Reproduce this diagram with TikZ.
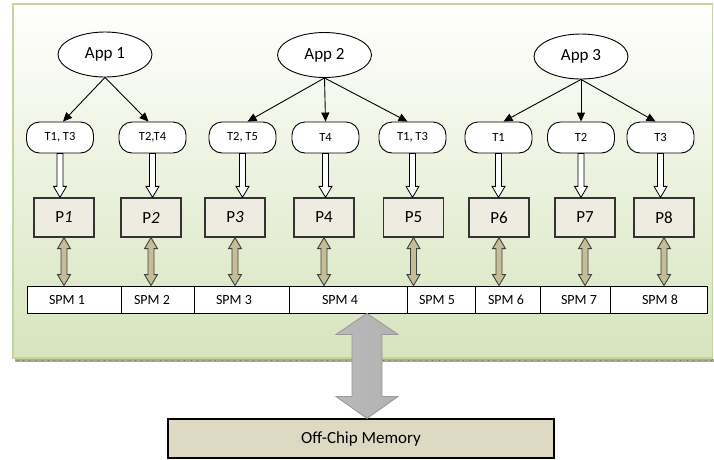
\documentclass[tikz,border=0pt]{standalone}
\usepackage{fontspec}
\setmainfont{Carlito}
\usetikzlibrary{arrows.meta,shapes.geometric,calc}
\definecolor{panelgreen}{HTML}{D7E4BD}
\definecolor{panelborder}{HTML}{C3D69B}
\definecolor{shadowc}{HTML}{A3AD90}
\definecolor{tickc}{HTML}{6F7A5C}
\definecolor{pfill}{HTML}{EEECE1}
\definecolor{tanc}{HTML}{C4BD97}
\definecolor{memfill}{HTML}{DDD9C3}
\newcommand\hollowarr[2]{%
  \coordinate (hA) at (#1.south);
  \coordinate (hB) at (#1.south |- #2.north);
  \draw[hollow] ($(hA)+(-3,0)$) -- ($(hB)+(-3,-11)$) -- ($(hB)+(-6.5,-11)$) -- (hB)
    -- ($(hB)+(6.5,-11)$) -- ($(hB)+(3,-11)$) -- ($(hA)+(3,0)$) -- cycle;}
\newcommand\tanarr[2]{%
  \coordinate (dA) at (#1.south);
  \coordinate (dB) at (#1.south |- #2.north);
  \draw[tanarrow] (dA) -- ($(dA)+(6.5,11)$) -- ($(dA)+(3,11)$) -- ($(dB)+(3,-11)$)
    -- ($(dB)+(6.5,-11)$) -- (dB) -- ($(dB)+(-6.5,-11)$) -- ($(dB)+(-3,-11)$)
    -- ($(dA)+(-3,11)$) -- ($(dA)+(-6.5,11)$) -- cycle;}
\begin{document}
\begin{tikzpicture}[x=1pt,y=-1pt,
  app/.style={ellipse,draw=black,line width=0.9pt,fill=white,minimum width=94pt,minimum height=45pt,inner sep=0pt,font=\fontsize{17}{20}\selectfont},
  task/.style={rectangle,rounded corners=13pt,draw=black,line width=0.9pt,fill=white,minimum width=67pt,minimum height=31pt,inner sep=0pt,font=\fontsize{12.5}{14}\selectfont},
  proc/.style={rectangle,draw=black!80,line width=1.3pt,fill=pfill,minimum width=60pt,minimum height=39pt,inner sep=0pt,font=\fontsize{17}{20}\selectfont},
  spmbox/.style={rectangle,draw=black,line width=0.9pt,fill=white,minimum height=27pt,inner sep=0pt},
  spmtxt/.style={inner sep=0pt,font=\fontsize{14}{16}\selectfont},
  mem/.style={rectangle,draw=black,line width=1.1pt,fill=memfill,minimum width=386pt,minimum height=39pt,inner sep=0pt,font=\fontsize{17}{20}\selectfont},
  conn/.style={draw=black,line width=0.9pt,-{Triangle[length=9pt,width=8pt]}},
  hollow/.style={draw=black,line width=0.8pt,fill=white,line join=miter},
  tanarrow/.style={draw=black!75,line width=0.9pt,fill=tanc,line join=miter},
  bigarrow/.style={draw=gray!80,line width=0.9pt,left color=gray!55,middle color=gray!22,right color=gray!60}
]
\useasboundingbox (0,0) rectangle (714,459);
% panel
\fill[shadowc] (15,358.5) rectangle (714,362);
\draw[tickc,line width=0.9pt,dash pattern=on 1pt off 5.2pt] (17,360.3) -- (714,360.3);
\path[top color=white,bottom color=panelgreen,draw=panelborder,line width=1.3pt] (13,4) rectangle (712.5,358);

% apps
\node[app] (app1) at (105,54.5) {App 1};
\node[app] (app2) at (324.5,55) {App 2};
\node[app] (app3) at (581,56.5) {App 3};

% tasks
\node[task] (t1) at (60,137.5) {T1, T3};
\node[task] (t2) at (152.5,137.5) {T2,T4};
\node[task] (t3) at (242.5,137.5) {T2, T5};
\node[task] (t4) at (325.5,137.5) {T4};
\node[task] (t5) at (412.5,137.5) {T1, T3};
\node[task] (t6) at (498.5,137.5) {T1};
\node[task] (t7) at (581,137.5) {T2};
\node[task] (t8) at (660.5,137.5) {T3};

% processors
\node[proc] (p1) at (64,217.5) {P\textit{1}};
\node[proc] (p2) at (151,217.5) {P\textit{2}};
\node[proc] (p3) at (235,217.5) {P\textit{3}};
\node[proc] (p4) at (324,217.5) {P4};
\node[proc] (p5) at (413.5,217.5) {P5};
\node[proc] (p6) at (499,217.5) {P6};
\node[proc] (p7) at (585,217.5) {P7};
\node[proc] (p8) at (664,217.5) {P8};

% SPMs
\node[spmbox,minimum width=94pt] (s1) at (74,299.5) {};
\node[spmbox,minimum width=73pt] (s2) at (157.5,299.5) {};
\node[spmbox,minimum width=95pt] (s3) at (241.5,299.5) {};
\node[spmbox,minimum width=118pt] (s4) at (348,299.5) {};
\node[spmbox,minimum width=68pt] (s5) at (441,299.5) {};
\node[spmbox,minimum width=65pt] (s6) at (507.5,299.5) {};
\node[spmbox,minimum width=70pt] (s7) at (575,299.5) {};
\node[spmbox,minimum width=97pt] (s8) at (658.5,299.5) {};
\node[spmtxt] (l1) at (67,300) {SPM 1};
\node[spmtxt] (l2) at (152,300) {SPM 2};
\node[spmtxt] (l3) at (234,300) {SPM 3};
\node[spmtxt] (l4) at (340,300) {SPM 4};
\node[spmtxt] (l5) at (437,300) {SPM 5};
\node[spmtxt] (l6) at (506,300) {SPM 6};
\node[spmtxt] (l7) at (579,300) {SPM 7};
\node[spmtxt] (l8) at (660,300) {SPM 8};

% memory
\node[mem] (mem) at (361,438.5) {Off-Chip Memory};

% app -> task connectors
\draw[conn] (app1.south) -- ($(t1.north)+(3,0)$);
\draw[conn] (app1.south) -- ($(t2.north)+(-4,0)$);
\draw[conn] (app2.south) -- ($(t3.north)+(5,0)$);
\draw[conn] (app2.south) -- (t4.north);
\draw[conn] (app2.south) -- ($(t5.north)+(-5,0)$);
\draw[conn] (app3.south) -- ($(t6.north)+(5,0)$);
\draw[conn] (app3.south) -- (t7.north);
\draw[conn] (app3.south) -- ($(t8.north)+(-5,0)$);

% hollow arrows task -> proc
\hollowarr{t1}{p1}
\hollowarr{t2}{p2}
\hollowarr{t3}{p3}
\hollowarr{t4}{p4}
\hollowarr{t5}{p5}
\hollowarr{t6}{p6}
\hollowarr{t7}{p7}
\hollowarr{t8}{p8}

% tan double arrows proc <-> spm
\tanarr{p1}{s1}
\tanarr{p2}{s2}
\tanarr{p3}{s3}
\tanarr{p4}{s4}
\tanarr{p5}{s5}
\tanarr{p6}{s6}
\tanarr{p7}{s7}
\tanarr{p8}{s8}

% big arrow spm4 <-> memory
\coordinate (gB) at ($(mem.north)+(6,0)$);
\coordinate (gA) at (gB |- s4.south);
\path[bigarrow] (gA) -- ($(gA)+(31,21)$) -- ($(gA)+(15,21)$) -- ($(gB)+(15,-22)$)
  -- ($(gB)+(31,-22)$) -- (gB) -- ($(gB)+(-31,-22)$) -- ($(gB)+(-15,-22)$)
  -- ($(gA)+(-15,21)$) -- ($(gA)+(-31,21)$) -- cycle;
\end{tikzpicture}
\end{document}
